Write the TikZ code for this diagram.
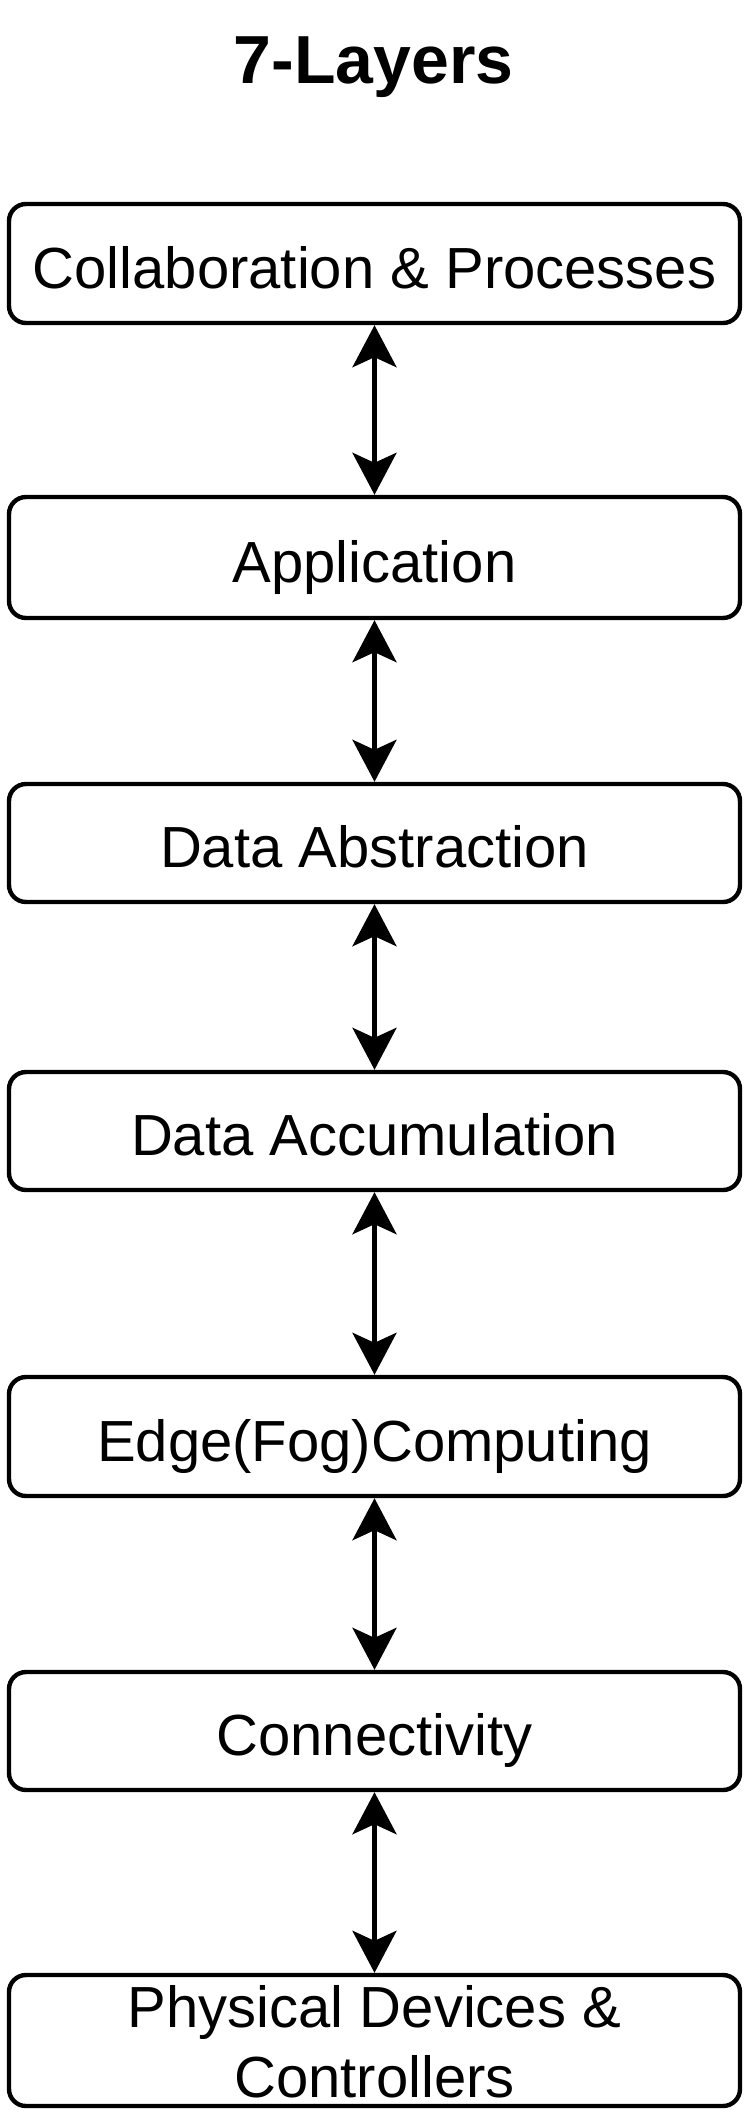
\documentclass[tikz,border=0pt]{standalone}
\usepackage{fontspec}
\setmainfont{Liberation Sans}
\usetikzlibrary{arrows.meta}
\begin{document}
\begin{tikzpicture}[x=1pt,y=-1pt,
  layerbox/.style={draw=black, line width=4.4pt, rounded corners=17pt, fill=white,
    minimum width=731pt, inner sep=0pt, font=\fontsize{58}{70}\selectfont,
    text height=49pt, text depth=0pt},
  link/.style={line width=4.4pt, {Stealth[length=42pt,width=44pt,inset=10pt]}-{Stealth[length=42pt,width=44pt,inset=10pt]}}]
\useasboundingbox (0,0) rectangle (747,2120);
\node[anchor=base, font=\fontsize{68}{80}\selectfont\bfseries] (title) at (373.5,83) {7-Layers};
\node[layerbox, minimum height=119pt] (b1) at (374.5,263.5) {Collaboration \& Processes};
\node[layerbox, minimum height=121pt] (b2) at (374.5,557.5) {Application};
\node[layerbox, minimum height=118pt] (b3) at (374.5,843) {Data Abstraction};
\node[layerbox, minimum height=118pt] (b4) at (374.5,1131) {Data Accumulation};
\node[layerbox, minimum height=119pt] (b5) at (374.5,1436.5) {Edge(Fog)Computing};
\node[layerbox, minimum height=118pt] (b6) at (374.5,1731) {Connectivity};
\node[layerbox, minimum height=131pt, align=center, text height=119pt, text depth=6pt] (b7) at (374.5,2040.5) {Physical Devices \&\\Controllers};
\draw[link] (b1.south) -- (b2.north);
\draw[link] (b2.south) -- (b3.north);
\draw[link] (b3.south) -- (b4.north);
\draw[link] (b4.south) -- (b5.north);
\draw[link] (b5.south) -- (b6.north);
\draw[link] (b6.south) -- (b7.north);
\end{tikzpicture}
\end{document}
